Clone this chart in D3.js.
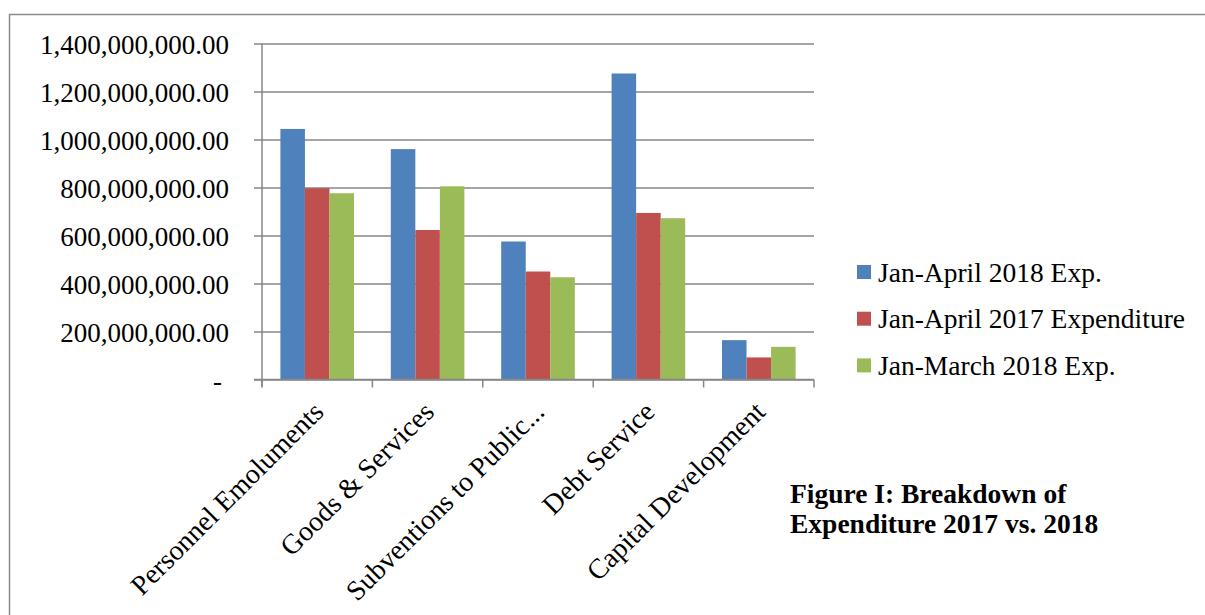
<!DOCTYPE html>
<html>
<head>
<meta charset="utf-8">
<script src="https://cdn.jsdelivr.net/npm/d3@7"></script>
<style>
  html, body { margin: 0; padding: 0; background: #fff; }
  svg { display: block; }
</style>
</head>
<body>
<svg id="chart" width="1205" height="615"></svg>
<script>
// ---- data ----
const categories = ["Personnel Emoluments", "Goods & Services", "Subventions to Public...", "Debt Service", "Capital Development"];
const seriesNames = ["Jan-April 2018 Exp.", "Jan-April 2017 Expenditure", "Jan-March 2018 Exp."];
const janApril2018 = [1044000000, 960000000, 575000000, 1275000000, 164000000];
const janApril2017 = [797000000, 623000000, 450000000, 694000000, 92000000];
const janMarch2018 = [776000000, 805000000, 426000000, 672000000, 136000000];
const yTicks = [0, 200000000, 400000000, 600000000, 800000000, 1000000000, 1200000000, 1400000000];
const seriesColors = ["#4F81BD", "#C0504D", "#9BBB59"];
const titleLines = ["Figure I: Breakdown of", "Expenditure 2017 vs. 2018"];

const seriesValues = [janApril2018, janApril2017, janMarch2018];

// ---- layout ----
const svg = d3.select("#chart");
const plotLeft = 262, plotRight = 814, plotTop = 43.5, plotBottom = 379.5;
const gridColor = "#878787";
const font = "'Liberation Serif', 'Times New Roman', serif";

// outer frame
svg.append("rect")
  .attr("x", 9.5).attr("y", 14.5)
  .attr("width", 1300).attr("height", 700)
  .attr("fill", "#fff")
  .attr("stroke", "#8a8a8a").attr("stroke-width", 1.5);

const x0 = d3.scaleBand().domain(categories).range([plotLeft, plotRight])
  .paddingInner(1 / 3).paddingOuter(1 / 6);
const x1 = d3.scaleBand().domain(d3.range(seriesNames.length)).range([0, x0.bandwidth()]);
const y = d3.scaleLinear().domain([0, 1400000000]).range([plotBottom, plotTop]);

// gridlines + y axis ticks
const yAxis = d3.axisLeft(y).tickValues(yTicks)
  .tickSize(-(plotRight - plotLeft))
  .tickFormat(d => d === 0 ? "" : d3.format(",.2f")(d));
const gy = svg.append("g").attr("transform", `translate(${plotLeft},0)`).call(yAxis);
gy.select(".domain").remove();
gy.selectAll(".tick line")
  .attr("x1", -8)
  .attr("stroke", gridColor).attr("stroke-width", 1.5);
gy.selectAll(".tick text")
  .attr("x", -33)
  .attr("dy", "0.36em")
  .style("font-family", font).style("font-size", "27px").attr("fill", "#000");
// zero label "-"
gy.selectAll(".tick").filter(d => d === 0).append("text")
  .attr("x", -40).attr("dy", "0.36em")
  .attr("text-anchor", "end")
  .style("font-family", font).style("font-size", "27px").attr("fill", "#000")
  .text("-");

// bars
const groups = svg.append("g").selectAll("g")
  .data(categories)
  .join("g")
  .attr("transform", d => `translate(${x0(d)},0)`);
groups.selectAll("rect")
  .data((d, i) => seriesValues.map((s, k) => ({ k, v: s[i] })))
  .join("rect")
  .attr("x", d => x1(d.k))
  .attr("width", x1.bandwidth())
  .attr("y", d => y(d.v))
  .attr("height", d => y(0) - y(d.v))
  .attr("fill", d => seriesColors[d.k]);

// y axis line
svg.append("line")
  .attr("x1", plotLeft).attr("x2", plotLeft)
  .attr("y1", plotTop).attr("y2", plotBottom + 7)
  .attr("stroke", gridColor).attr("stroke-width", 1.5);

// x axis
const step = x0.step();
const boundaries = d3.range(categories.length + 1).map(i => plotLeft + i * step);
svg.append("line")
  .attr("x1", plotLeft - 8).attr("x2", plotRight)
  .attr("y1", plotBottom).attr("y2", plotBottom)
  .attr("stroke", gridColor).attr("stroke-width", 1.5);
svg.append("g").selectAll("line")
  .data(boundaries)
  .join("line")
  .attr("x1", d => d).attr("x2", d => d)
  .attr("y1", plotBottom).attr("y2", plotBottom + 8)
  .attr("stroke", gridColor).attr("stroke-width", 1.5);

// category labels
svg.append("g").selectAll("text")
  .data(categories)
  .join("text")
  .attr("transform", d => `translate(${x0(d) + x0.bandwidth() / 2 + 8},${plotBottom + 34}) rotate(-45)`)
  .attr("text-anchor", "end")
  .style("font-family", font).style("font-size", "28px").attr("fill", "#000")
  .text(d => d);

// legend
const legend = svg.append("g").selectAll("g")
  .data(seriesNames)
  .join("g")
  .attr("transform", (d, i) => `translate(857,${265 + i * 46.7})`);
legend.append("rect")
  .attr("width", 14).attr("height", 14)
  .attr("fill", (d, i) => seriesColors[i]);
legend.append("text")
  .attr("x", 21).attr("y", 16.5)
  .style("font-family", font).style("font-size", "27.5px").attr("fill", "#000")
  .text(d => d);

// title
svg.append("g").selectAll("text")
  .data(titleLines)
  .join("text")
  .attr("x", 790)
  .attr("y", (d, i) => 503 + i * 30)
  .style("font-family", font).style("font-size", "27.5px").style("font-weight", "bold")
  .attr("fill", "#000")
  .text(d => d);
</script>
</body>
</html>
